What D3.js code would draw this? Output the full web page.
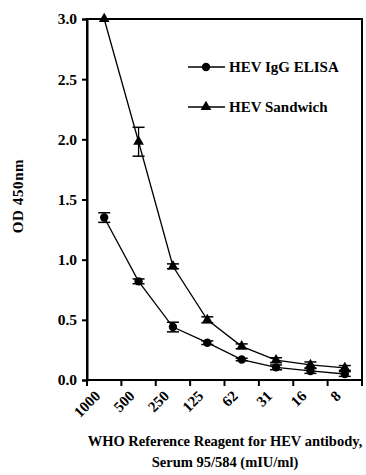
<!DOCTYPE html>
<html>
<head>
<meta charset="utf-8">
<script src="https://cdn.jsdelivr.net/npm/d3@7"></script>
<style>
	body { margin: 0; background: #fff; }
	svg { display: block; font-family: "Liberation Serif", "Times New Roman", serif; font-weight: bold; }
</style>
</head>
<body>
<div id="chart"></div>
<script>
// dilutions of the WHO reference reagent (mIU/ml)
const dilutions = ['1000', '500', '250', '125', '62', '31', '16', '8'];
const elisaValues = [1.35, 0.82, 0.44, 0.31, 0.17, 0.105, 0.075, 0.05];
const elisaErrors = [0.04, 0.02, 0.04, 0.015, 0.01, 0.02, 0.02, 0.02];
const sandwichValues = [3.0, 1.98, 0.945, 0.50, 0.28, 0.165, 0.125, 0.10];
const sandwichErrors = [0, 0.12, 0.02, 0.025, 0.02, 0.02, 0.025, 0.02];
const yTicks = [0, 0.5, 1.0, 1.5, 2.0, 2.5, 3.0];
const seriesNames = ['HEV IgG ELISA', 'HEV Sandwich'];

function draw() {
	const width = 366, height = 475;
	const margin = { top: 19, right: 4, bottom: 95, left: 87 };

	const $svg = d3.select('#chart').append('svg')
		.attr('width', width)
		.attr('height', height);

	const x = d3.scaleBand()
		.domain(dilutions)
		.range([margin.left, width - margin.right]);
	const y = d3.scaleLinear()
		.domain([0, 3])
		.range([height - margin.bottom, margin.top]);

	// frame
	$svg.append('rect')
		.attr('x', margin.left)
		.attr('y', margin.top)
		.attr('width', width - margin.right - margin.left)
		.attr('height', height - margin.bottom - margin.top)
		.attr('fill', 'none')
		.attr('stroke', '#000')
		.attr('stroke-width', 2);

	// y axis
	const $yAxis = $svg.append('g')
		.attr('transform', `translate(${margin.left},0)`)
		.call(d3.axisLeft(y).tickValues(yTicks).tickFormat(d3.format('.1f')).tickSize(5).tickPadding(5));
	$yAxis.select('.domain').attr('stroke-width', 2);
	$yAxis.selectAll('.tick line').attr('stroke-width', 2);
	$yAxis.selectAll('.tick text')
		.attr('font-size', 15.5)
		.attr('font-family', '"Liberation Serif", serif')
		.attr('font-weight', 'bold')
		.attr('fill', '#000');

	// x axis: ticks on band edges, labels on band centres
	const xBase = height - margin.bottom;
	const edges = d3.range(dilutions.length + 1).map(i => margin.left + i * x.step());
	$svg.append('g').selectAll('line')
		.data(edges)
		.join('line')
		.attr('x1', d => d).attr('x2', d => d)
		.attr('y1', xBase).attr('y2', xBase + 6)
		.attr('stroke', '#000')
		.attr('stroke-width', 2);

	$svg.append('g').selectAll('text')
		.data(dilutions)
		.join('text')
		.attr('transform', d => `translate(${x(d) + x.bandwidth() / 2 - 3},${xBase + 17}) rotate(-45)`)
		.attr('text-anchor', 'end')
		.attr('font-size', 15)
		.text(d => d);

	// axis titles
	$svg.append('text')
		.attr('transform', `translate(23,196) rotate(-90)`)
		.attr('text-anchor', 'middle')
		.attr('font-size', 15)
		.attr('letter-spacing', 0.6)
		.text('OD 450nm');

	const $xTitle = $svg.append('text')
		.attr('text-anchor', 'middle')
		.attr('font-size', 14.5);
	$xTitle.append('tspan').attr('x', 225).attr('y', 446).text('WHO Reference Reagent for HEV antibody,');
	$xTitle.append('tspan').attr('x', 225).attr('y', 467).text('Serum 95/584 (mIU/ml)');

	// series
	const series = [
		{ name: seriesNames[0], values: elisaValues, errors: elisaErrors, symbol: d3.symbolCircle, size: 55 },
		{ name: seriesNames[1], values: sandwichValues, errors: sandwichErrors, symbol: d3.symbolTriangle, size: 50 }
	];
	const cx = d => x(d) + x.bandwidth() / 2;
	const line = d3.line()
		.x(d => cx(d.cat))
		.y(d => y(d.v));

	series.forEach(s => {
		const pts = dilutions.map((c, i) => ({ cat: c, v: s.values[i], e: s.errors[i] }));
		const $g = $svg.append('g');
		$g.append('path')
			.datum(pts)
			.attr('d', line)
			.attr('fill', 'none')
			.attr('stroke', '#000')
			.attr('stroke-width', 1.3);

		const $err = $g.selectAll('.err')
			.data(pts.filter(d => d.e > 0))
			.join('g')
			.classed('err', true);
		$err.append('line')
			.attr('x1', d => cx(d.cat)).attr('x2', d => cx(d.cat))
			.attr('y1', d => y(d.v - d.e)).attr('y2', d => y(d.v + d.e))
			.attr('stroke', '#000').attr('stroke-width', 1.3);
		[-1, 1].forEach(sign => {
			$err.append('line')
				.attr('x1', d => cx(d.cat) - 6).attr('x2', d => cx(d.cat) + 6)
				.attr('y1', d => y(d.v + sign * d.e)).attr('y2', d => y(d.v + sign * d.e))
				.attr('stroke', '#000').attr('stroke-width', 1.5);
		});

		$g.selectAll('.mark')
			.data(pts)
			.join('path')
			.classed('mark', true)
			.attr('transform', d => `translate(${cx(d.cat)},${y(d.v)})`)
			.attr('d', d3.symbol().type(s.symbol).size(s.size))
			.attr('fill', '#000');
	});

	// legend
	const $legend = $svg.append('g');
	series.forEach((s, i) => {
		const ly = 67 + i * 40;
		$legend.append('line')
			.attr('x1', 188).attr('x2', 225)
			.attr('y1', ly).attr('y2', ly)
			.attr('stroke', '#000').attr('stroke-width', 1.3);
		$legend.append('path')
			.attr('transform', `translate(206,${ly})`)
			.attr('d', d3.symbol().type(s.symbol).size(s.size))
			.attr('fill', '#000');
		$legend.append('text')
			.attr('x', 229).attr('y', ly + 5)
			.attr('font-size', 15)
			.text(s.name);
	});
}

draw();
</script>
</body>
</html>
